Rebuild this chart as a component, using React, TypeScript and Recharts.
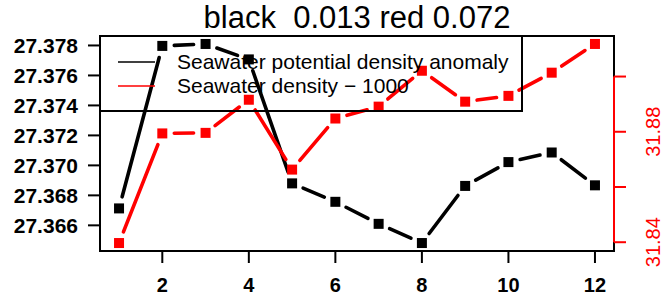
import { ComposedChart, Legend, Line, ReferenceArea, ReferenceLine, XAxis, YAxis } from "recharts";

const months = [1, 2, 3, 4, 5, 6, 7, 8, 9, 10, 11, 12];
const anomaly = [27.36713, 27.37797, 27.3781, 27.37707, 27.3688, 27.36757, 27.3661, 27.36482, 27.36863, 27.37022, 27.37086, 27.36867];
const density = [31.8397, 31.8794, 31.8796, 31.8916, 31.8663, 31.8848, 31.8891, 31.9021, 31.8909, 31.893, 31.9014, 31.9118];

const monthTicks = [2, 4, 6, 8, 10, 12];
const anomalyTicks = [27.366, 27.368, 27.37, 27.372, 27.374, 27.376, 27.378];
const densityTicks = [31.84, 31.86, 31.88, 31.9];
const densityLabels = ["31.84", "", "31.88", ""];

const title = "black  0.013 red 0.072";
const seriesNames = ["Seawater potential density anomaly", "Seawater density \u2212 1000"];
const seriesColors = ["#000000", "#ff0000"];

const FONT = "'Liberation Sans', Arial, sans-serif";
const GAP = 12;

// R style: 4% padding on each side of the data range
function padded(v: number[]): [number, number] {
  const lo = Math.min(...v);
  const hi = Math.max(...v);
  const p = (hi - lo) * 0.04;
  return [lo - p, hi + p];
}

const xDomain = padded(months);
const leftDomain = padded(anomaly);
const rightDomain = padded(density);

const data = months.map((m, i) => ({ month: m, anomaly: anomaly[i], density: density[i] }));

// type="b": square points, segments stopping short of each point
function makeDot(color: string) {
  return (props: any) => {
    const { cx, cy, index, points } = props;
    const next = points?.[index + 1];
    let seg = null;
    if (next) {
      const dx = next.x - cx;
      const dy = next.y - cy;
      const len = Math.hypot(dx, dy);
      if (len > 2 * GAP) {
        const ux = dx / len;
        const uy = dy / len;
        seg = (
          <line
            x1={cx + ux * GAP}
            y1={cy + uy * GAP}
            x2={next.x - ux * GAP}
            y2={next.y - uy * GAP}
            stroke={color}
            strokeWidth={3.6}
            strokeLinecap="round"
          />
        );
      }
    }
    return (
      <g key={`dot-${index}`}>
        {seg}
        <rect x={cx - 5} y={cy - 5} width={10} height={10} fill={color} />
      </g>
    );
  };
}

function RightTick({ x, y, payload }: any) {
  const label = densityLabels[densityTicks.indexOf(payload.value)];
  if (!label) return null;
  return (
    <text
      x={x}
      y={y}
      transform={`rotate(-90, ${x}, ${y})`}
      textAnchor="middle"
      dominantBaseline="central"
      fill="#ff0000"
      fontSize={20}
      fontFamily={FONT}
    >
      {label}
    </text>
  );
}

function LegendBox() {
  return (
    <svg width={422} height={75} style={{ display: "block", overflow: "visible" }}>
      <rect x={0} y={0} width={422} height={75} fill="none" stroke="#000" strokeWidth={2} />
      {seriesNames.map((name, i) => (
        <g key={name}>
          <line x1={18} x2={55} y1={26 + i * 24} y2={26 + i * 24} stroke={seriesColors[i]} strokeWidth={1.5} />
          <text x={77} y={33 + i * 24} fontSize={21} fontFamily={FONT} fill="#000">
            {name}
          </text>
        </g>
      ))}
    </svg>
  );
}

export default function App() {
  const tickStyle = { fill: "#000", fontSize: 20, fontWeight: "bold", fontFamily: FONT };
  return (
    <div style={{ position: "absolute", left: 0, top: 0, width: 663, height: 298, background: "#fff" }}>
      <div
        style={{
          position: "absolute",
          left: 100,
          width: 514,
          top: 2,
          textAlign: "center",
          fontSize: 31,
          lineHeight: "31px",
          fontFamily: FONT,
          whiteSpace: "pre",
          color: "#000",
          zIndex: 2,
        }}
      >
        {title}
      </div>
      <ComposedChart width={663} height={298} data={data} margin={{ top: 36, right: 0, bottom: 0, left: 0 }}>
        <XAxis
          dataKey="month"
          type="number"
          domain={xDomain}
          ticks={monthTicks}
          height={47}
          axisLine={false}
          tickSize={12}
          tickMargin={15}
          tickLine={{ stroke: "#000", strokeWidth: 2 }}
          tick={tickStyle}
          interval={0}
        />
        <YAxis
          yAxisId="left"
          type="number"
          domain={leftDomain}
          ticks={anomalyTicks}
          width={100}
          axisLine={false}
          tickSize={12}
          tickMargin={10}
          tickLine={{ stroke: "#000", strokeWidth: 2 }}
          tick={{ ...tickStyle, fontSize: 21 }}
          tickFormatter={(v: number) => v.toFixed(3)}
          interval={0}
        />
        <YAxis
          yAxisId="right"
          orientation="right"
          type="number"
          domain={rightDomain}
          ticks={densityTicks}
          width={49}
          axisLine={false}
          tickSize={12}
          tickMargin={27}
          tickLine={{ stroke: "#ff0000", strokeWidth: 2 }}
          tick={<RightTick />}
          interval={0}
        />
        <ReferenceArea
          yAxisId="left"
          x1={xDomain[0]}
          x2={xDomain[1]}
          y1={leftDomain[0]}
          y2={leftDomain[1]}
          fill="none"
          stroke="#000"
          strokeWidth={2}
        />
        <ReferenceLine
          yAxisId="right"
          segment={[
            { x: xDomain[1], y: densityTicks[0] },
            { x: xDomain[1], y: densityTicks[densityTicks.length - 1] },
          ]}
          stroke="#ff0000"
          strokeWidth={2}
        />
        <Line
          yAxisId="left"
          dataKey="anomaly"
          name={seriesNames[0]}
          stroke="none"
          dot={makeDot(seriesColors[0])}
          activeDot={false}
          isAnimationActive={false}
        />
        <Line
          yAxisId="right"
          dataKey="density"
          name={seriesNames[1]}
          stroke="none"
          dot={makeDot(seriesColors[1])}
          activeDot={false}
          isAnimationActive={false}
        />
        <Legend
          layout="vertical"
          align="center"
          verticalAlign="middle"
          wrapperStyle={{ left: 100, top: 36, width: 422, height: 75 }}
          content={() => <LegendBox />}
        />
      </ComposedChart>
    </div>
  );
}
